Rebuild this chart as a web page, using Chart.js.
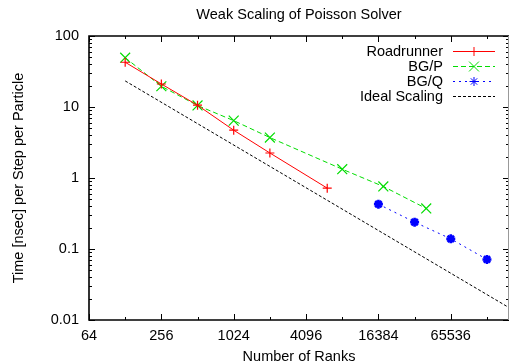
<!DOCTYPE html>
<html>
<head>
<meta charset="utf-8">
<script src="https://cdn.jsdelivr.net/npm/chart.js@4"></script>
<style>
  html, body { margin: 0; padding: 0; background: #fff; overflow: hidden; }
</style>
</head>
<body>
<canvas id="scalingChart" width="510" height="364"></canvas>
<script>
const FONT = "'Liberation Sans', Arial, Helvetica, sans-serif";

// Weak Scaling of Poisson Solver
const seriesNames = ["Roadrunner", "BG/P", "BG/Q", "Ideal Scaling"];

const ranksRoadrunner = [128, 256, 512, 1024, 2048, 6144];
const timeRoadrunner = [42.7, 21.1, 10.6, 4.71, 2.25, 0.72];

const ranksBGP = [128, 256, 512, 1024, 2048, 8192, 18000, 40960];
const timeBGP = [49.5, 19.6, 10.5, 6.43, 3.71, 1.33, 0.76, 0.372];

const ranksBGQ = [16384, 32768, 65536, 131072];
const timeBGQ = [0.428, 0.239, 0.139, 0.0713];

const ranksIdeal = [128, 262144];
const timeIdeal = [23.3, 0.0114];

// tick positions
const xMajorTicks = [64, 256, 1024, 4096, 16384, 65536];
const xMinorTicks = [128, 512, 2048, 8192, 32768, 131072];
const yMajorTicks = [0.01, 0.1, 1, 10, 100];
const yMinorTicks = [];
[0.01, 0.1, 1, 10].forEach(d => {
  for (let k = 2; k <= 9; k++) yMinorTicks.push(d * k);
});

const pts = (xs, ys) => xs.map((x, i) => ({ x: x, y: ys[i] }));

const styles = [
  { color: "#ff0000", dash: [], pointStyle: "cross", radius: 4.5, pointWidth: 1.2 },
  { color: "#00dd00", dash: [5, 3], pointStyle: "crossRot", radius: 7, pointWidth: 1.2 },
  { color: "#0000ff", dash: [2, 4], pointStyle: "star", radius: 4.5, pointWidth: 2.6 },
  { color: "#000000", dash: [3, 2], pointStyle: false, radius: 0, pointWidth: 0 },
];

const seriesData = [
  pts(ranksRoadrunner, timeRoadrunner),
  pts(ranksBGP, timeBGP),
  pts(ranksBGQ, timeBGQ),
  pts(ranksIdeal, timeIdeal),
];

// gnuplot style box with inward ticks, plus the legend in the top right
const framePlugin = {
  id: "gnuplotFrame",
  afterDraw(chart) {
    const { ctx, chartArea: a, scales: { x, y } } = chart;
    ctx.save();
    ctx.strokeStyle = "#000";
    ctx.lineWidth = 1;
    ctx.beginPath();
    const xTick = (v, len) => {
      const px = Math.round(x.getPixelForValue(v)) + 0.5;
      ctx.moveTo(px, a.bottom); ctx.lineTo(px, a.bottom - len);
      ctx.moveTo(px, a.top); ctx.lineTo(px, a.top + len);
    };
    const yTick = (v, len) => {
      const py = Math.round(y.getPixelForValue(v)) + 0.5;
      ctx.moveTo(a.left, py); ctx.lineTo(a.left + len, py);
      ctx.moveTo(a.right, py); ctx.lineTo(a.right - len, py);
    };
    xMajorTicks.forEach(v => xTick(v, 6));
    xMinorTicks.forEach(v => xTick(v, 3));
    yMajorTicks.forEach(v => yTick(v, 6));
    yMinorTicks.forEach(v => yTick(v, 3));
    ctx.stroke();

    ctx.lineWidth = 1.6;
    ctx.beginPath();
    ctx.moveTo(a.right, a.top);
    ctx.lineTo(a.left, a.top);
    ctx.lineTo(a.left, a.bottom);
    ctx.lineTo(a.right, a.bottom);
    ctx.stroke();
    ctx.strokeStyle = "#999";
    ctx.lineWidth = 1;
    ctx.beginPath();
    ctx.moveTo(a.right - 0.5, a.top);
    ctx.lineTo(a.right - 0.5, a.bottom);
    ctx.stroke();

    // legend
    ctx.font = "14.5px " + FONT;
    ctx.textAlign = "right";
    ctx.textBaseline = "middle";
    seriesNames.forEach((name, i) => {
      const s = styles[i];
      const rowY = Math.round(a.top + 14.7 + i * 15.1) + 0.5;
      ctx.fillStyle = "#000";
      ctx.fillText(name, a.right - 66, rowY);
      const x1 = a.right - 56, x2 = a.right - 14;
      ctx.strokeStyle = s.color;
      ctx.lineWidth = 1;
      ctx.setLineDash(s.dash);
      ctx.beginPath();
      ctx.moveTo(x1, rowY);
      ctx.lineTo(x2, rowY);
      ctx.stroke();
      ctx.setLineDash([]);
      if (s.pointStyle) {
        ctx.fillStyle = s.color;
        Chart.helpers.drawPoint(ctx, {
          pointStyle: s.pointStyle, radius: s.radius, borderWidth: s.pointWidth, rotation: 0
        }, (x1 + x2) / 2, rowY);
      }
    });
    ctx.restore();
  }
};

const ctx = document.getElementById("scalingChart").getContext("2d");
const scalingChart = new Chart(ctx, {
  type: "scatter",
  data: {
    datasets: seriesNames.map((name, i) => ({
      label: name,
      data: seriesData[i],
      showLine: true,
      borderColor: styles[i].color,
      backgroundColor: styles[i].color,
      borderWidth: 1,
      borderDash: styles[i].dash,
      pointStyle: styles[i].pointStyle,
      pointRadius: styles[i].radius,
      pointBorderWidth: styles[i].pointWidth,
      pointHoverRadius: styles[i].radius,
    })),
  },
  options: {
    responsive: false,
    animation: false,
    layout: { autoPadding: false, padding: { left: 0, right: 1, top: 0, bottom: 0 } },
    plugins: {
      legend: { display: false },
      tooltip: { enabled: false },
      title: {
        display: true,
        text: "Weak Scaling of Poisson Solver",
        fullSize: false,
        color: "#000",
        font: { family: FONT, size: 14.5, weight: "normal", lineHeight: 1.2 },
        padding: { top: 6.3, bottom: 12.3 },
      },
    },
    scales: {
      x: {
        type: "logarithmic",
        min: 64,
        max: 200000,
        grid: { display: false, drawTicks: false },
        border: { display: false },
        afterBuildTicks: (scale) => { scale.ticks = xMajorTicks.map(v => ({ value: v })); },
        afterFit: (scale) => {
          scale.height = 44;
          scale.paddingLeft = 0;
          scale.paddingRight = 0;
        },
        ticks: {
          autoSkip: false,
          maxRotation: 0,
          padding: 7,
          color: "#000",
          font: { family: FONT, size: 14.5 },
          callback: (v) => String(v),
        },
        title: {
          display: true,
          text: "Number of Ranks",
          color: "#000",
          font: { family: FONT, size: 14.5, lineHeight: 1 },
          padding: 0,
        },
      },
      y: {
        type: "logarithmic",
        min: 0.01,
        max: 100,
        grid: { display: false, drawTicks: false },
        border: { display: false },
        afterBuildTicks: (scale) => { scale.ticks = yMajorTicks.map(v => ({ value: v })); },
        afterFit: (scale) => { scale.width = 89; },
        ticks: {
          padding: 10,
          color: "#000",
          font: { family: FONT, size: 14.5 },
          callback: (v) => String(v),
        },
        title: {
          display: true,
          text: "Time [nsec] per Step per Particle",
          color: "#000",
          font: { family: FONT, size: 14.5, lineHeight: 1.2 },
          padding: { top: 10.3, bottom: 0 },
        },
      },
    },
  },
  plugins: [framePlugin],
});
</script>
</body>
</html>
